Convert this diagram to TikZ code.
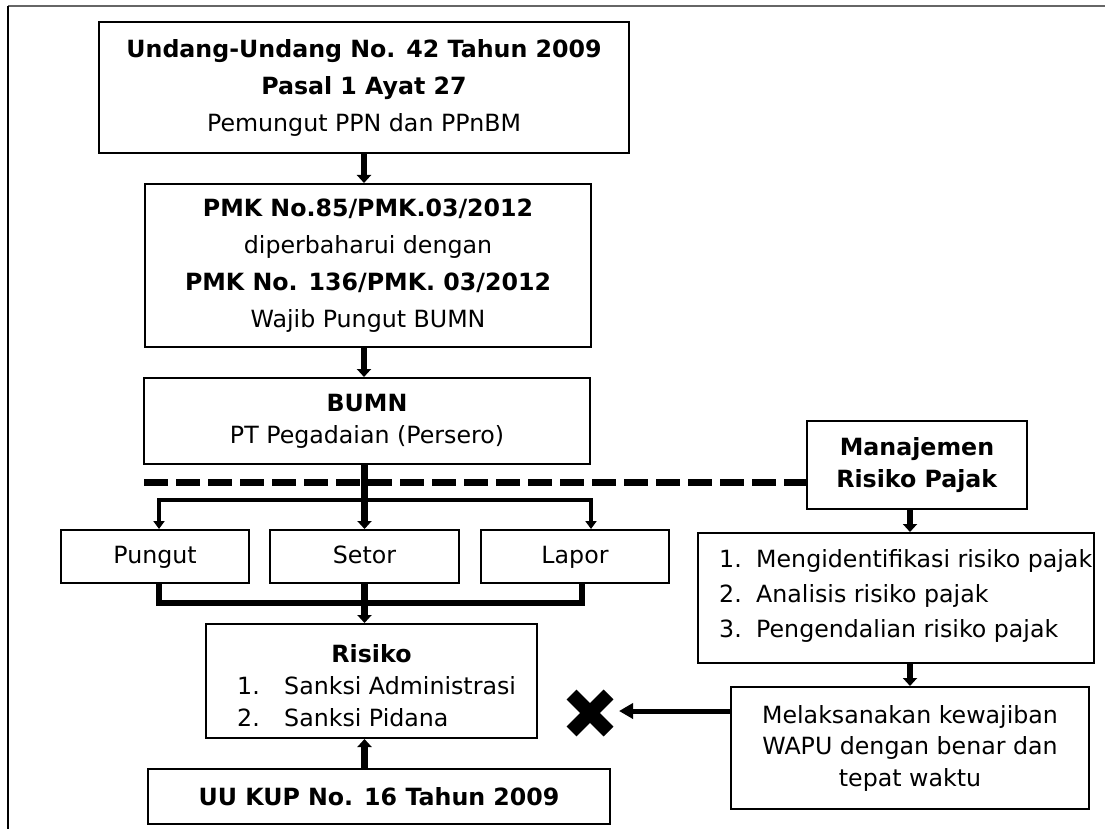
\documentclass[tikz,border=0pt]{standalone}
\usepackage{fontspec}
\setmainfont{DejaVu Sans}
\usetikzlibrary{arrows.meta,calc}
\begin{document}
\begin{tikzpicture}[x=1pt,y=-1pt,
  box/.style={draw, line width=2pt, inner sep=0pt, align=center,
    font=\fontsize{23.7}{37}\selectfont},
  txt/.style={inner sep=0pt, align=left, font=\fontsize{23.7}{37}\selectfont},
  arr/.style={line width=6.5pt, -{Triangle[width=14pt,length=8pt]}},
  branch/.style={line width=4pt, -{Triangle[width=11pt,length=8pt]}},
  merge/.style={line width=5.5pt, line join=miter},
  xarr/.style={line width=5pt, -{Triangle[width=15pt,length=14pt]}},
  frame/.style={line width=2pt, black!60}]
\useasboundingbox (0,0) rectangle (1105,829);
% page frame
\draw[frame] (8,6.5) -- (1105,6.5);
\draw[line width=1.5pt] (8,6.5) -- (8,829);

% boxes
\node[box, minimum width=530pt, minimum height=131pt] (b1) at (364,87.5)
  {\textbf{Undang-Undang No. 42 Tahun 2009}\\ \textbf{Pasal 1 Ayat 27}\\ Pemungut PPN dan PPnBM};
\node[box, minimum width=446pt, minimum height=163pt] (b2) at (368,265.5)
  {\textbf{PMK No.85/PMK.03/2012}\\ diperbaharui dengan\\ \textbf{PMK No. 136/PMK. 03/2012}\\ Wajib Pungut BUMN};
\node[box, minimum width=446pt, minimum height=86pt,
  font=\fontsize{23.7}{32}\selectfont] (b3) at (367,421)
  {\textbf{BUMN}\\ PT Pegadaian (Persero)};
\node[box, minimum width=188pt, minimum height=53pt] (pungut) at (155,556.5) {\strut Pungut};
\node[box, minimum width=189pt, minimum height=53pt] (setor) at (364.5,556.5) {\strut Setor};
\node[box, minimum width=188pt, minimum height=53pt] (lapor) at (575,556.5) {\strut Lapor};
\node[box, minimum width=331pt, minimum height=114pt] (risk) at (371.5,681) {};
\node[txt] (risktitle) at (371.5,654) {\textbf{Risiko}};
\node[txt, anchor=west, font=\fontsize{23.7}{32}\selectfont] (risklist) at (237,702)
  {\makebox[47pt][l]{1.}Sanksi Administrasi\\ \makebox[47pt][l]{2.}Sanksi Pidana};
\node[box, minimum width=462pt, minimum height=55pt] (uu) at (379,796.5)
  {\textbf{UU KUP No. 16 Tahun 2009}};
\node[box, minimum width=220pt, minimum height=88pt,
  font=\fontsize{23.7}{32}\selectfont] (mrp) at (917,465)
  {\textbf{Manajemen}\\ \textbf{Risiko Pajak}};
\node[box, minimum width=396pt, minimum height=130pt] (list) at (896,598) {};
\node[txt, anchor=west, font=\fontsize{23.7}{35}\selectfont] (listtext) at (719,596)
  {\makebox[37pt][l]{1.}Mengidentifikasi risiko pajak\\
   \makebox[37pt][l]{2.}Analisis risiko pajak\\
   \makebox[37pt][l]{3.}Pengendalian risiko pajak};
\node[box, minimum width=358pt, minimum height=122pt,
  font=\fontsize{23.7}{31.5}\selectfont] (mel) at (910,748)
  {Melaksanakan kewajiban\\ WAPU dengan benar dan\\ tepat waktu};

% dashed separator
\coordinate (dl) at (144,482);
\draw[line width=7pt, dash pattern=on 24pt off 8pt] (dl) -- (dl -| mrp.west);

% main flow
\draw[arr] (b1.south) -- (b1.south |- b2.north);
\draw[arr] (b1.south |- b2.south) -- (b1.south |- b3.north);
\draw[arr] (b3.south -| setor.north) -- (setor.north);
\coordinate (br) at (364,500);
\coordinate (pt) at ($(pungut.north)+(4,0)$);
\coordinate (lt) at ($(lapor.north)+(16,0)$);
\draw[branch] (br) -| (pt);
\draw[branch] (br) -| (lt);

% merge to risk
\coordinate (mg) at (364,603);
\coordinate (pb) at ($(pungut.south)+(4,0)$);
\coordinate (lb) at ($(lapor.south)+(7,0)$);
\draw[merge] (pb) |- (mg) -| (lb);
\draw[arr] (setor.south) -- (setor.south |- risk.north);
\draw[arr] (uu.north -| setor.south) -- (risk.south -| setor.south);

% right column
\draw[arr] (mrp.south -| mel.north) -- (list.north -| mel.north);
\draw[arr] (list.south -| mel.north) -- (mel.north);

% cross mark
\coordinate (xm) at (590,713);
\coordinate (xt) at (619,711);
\draw[xarr] (xt -| mel.west) -- (xt);
\draw[line width=14pt] ($(xm)+(-18.5,-18.5)$) -- ($(xm)+(18.5,18.5)$);
\draw[line width=14pt] ($(xm)+(-18.5,18.5)$) -- ($(xm)+(18.5,-18.5)$);
\end{tikzpicture}
\end{document}
